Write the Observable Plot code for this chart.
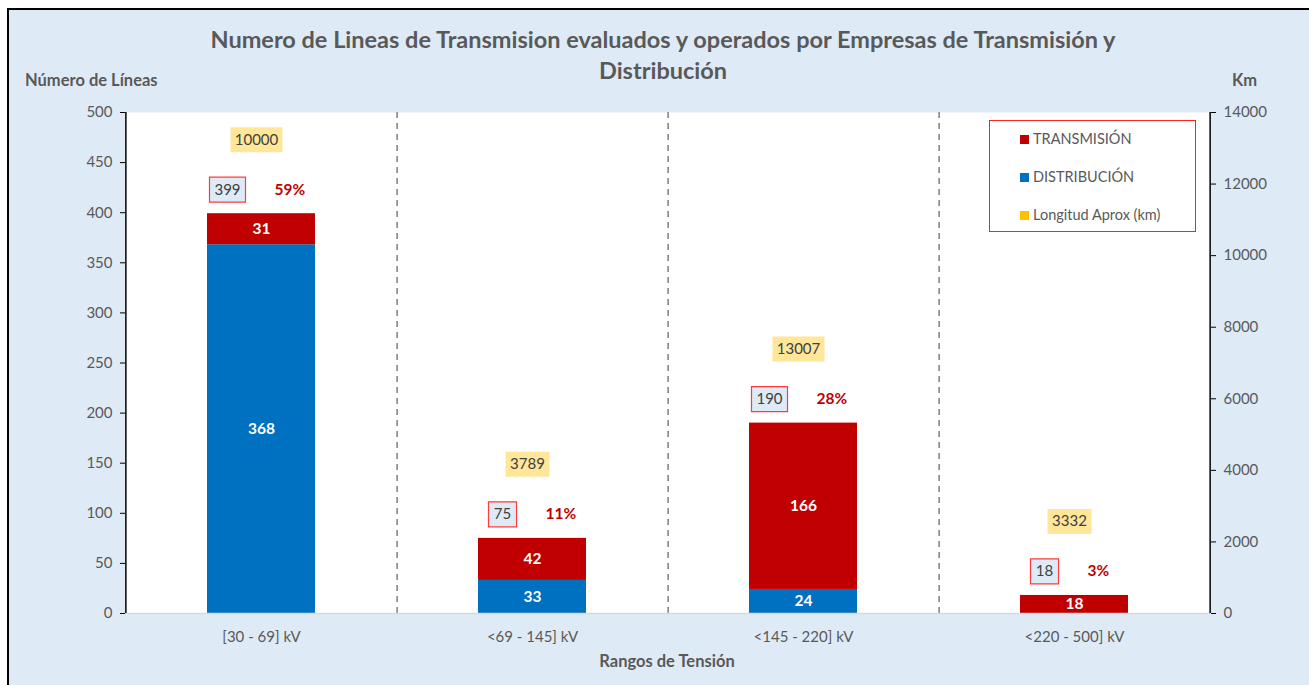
<!DOCTYPE html>
<html><head><meta charset="utf-8">
<script src="https://cdn.jsdelivr.net/npm/d3@7"></script>
<script src="https://cdn.jsdelivr.net/npm/@observablehq/plot@0.6"></script>
<style>
body{margin:0;background:#fff;}
#wrap{position:relative;width:1309px;height:685px;overflow:hidden;font-family:Lato,"Open Sans",sans-serif;color:#595959;}
#bg{position:absolute;left:7px;top:8px;width:1400px;height:800px;background:#DEEBF7;border-left:2px solid #000;border-top:2px solid #000;}
#chart{position:absolute;left:0;top:0;}
#title{position:absolute;left:113px;width:1100px;top:24px;text-align:center;font-weight:bold;font-size:23.5px;line-height:31px;color:#595959;}
.lab{position:absolute;font-weight:bold;font-size:16.5px;line-height:20px;color:#595959;white-space:nowrap;}
#legend{position:absolute;left:989px;top:120px;width:205px;height:110px;border:1.5px solid #FF2020;background:#fff;}
.li{position:absolute;left:30px;font-size:14.5px;line-height:18px;color:#595959;white-space:nowrap;}
.li span{display:inline-block;width:9px;height:9px;margin-right:4px;vertical-align:0px;}
</style></head>
<body>
<div id="wrap">
  <div id="bg"></div>
  <div id="chart"></div>
  <div id="title">Numero de Lineas de Transmision evaluados y operados por Empresas de Transmisión y<br>Distribución</div>
  <div class="lab" style="left:25px;top:70px;">Número de Líneas</div>
  <div class="lab" style="left:1232px;top:70px;">Km</div>
  <div class="lab" style="left:567px;width:200px;text-align:center;top:651px;">Rangos de Tensión</div>
  <div id="legend"></div>
</div>
<script>
const categories = ["[30 - 69] kV", "<69 - 145] kV", "<145 - 220] kV", "<220 - 500] kV"];
const transmision = [31, 42, 166, 18];
const distribucion = [368, 33, 24, 0];
const totals = [399, 75, 190, 18];
const percents = ["59%", "11%", "28%", "3%"];
const longitud = [10000, 3789, 13007, 3332];
const leftTicks = [0, 50, 100, 150, 200, 250, 300, 350, 400, 450, 500];
const rightTicks = [0, 2000, 4000, 6000, 8000, 10000, 12000, 14000];
const seriesNames = ["TRANSMISIÓN", "DISTRIBUCIÓN", "Longitud Aprox (km)"];
const seriesColors = ["#C00000", "#0070C0", "#FFC000"];

const W = 1309, H = 685, mL = 125, mR = 99, mT = 112, mB = 72;
const pIn = 0.6, pOut = 0.3;
const step = (W - mL - mR) / (categories.length - pIn + 2 * pOut);
const edge = step * pOut + step * (1 - pIn) / 2; // from first/last band centre to frame edge
const kmFactor = 14000 / 500;

const rows = categories.flatMap((c, i) => [
  {cat: c, serie: "DISTRIBUCIÓN", value: distribucion[i]},
  {cat: c, serie: "TRANSMISIÓN", value: transmision[i]}
]);
const tot = categories.map((c, i) => ({cat: c, total: totals[i], pct: percents[i], km: longitud[i]}));

const boxSymbol = (w, h) => ({draw(ctx) {
  ctx.moveTo(-w / 2, -h / 2); ctx.lineTo(w / 2, -h / 2); ctx.lineTo(w / 2, h / 2); ctx.lineTo(-w / 2, h / 2); ctx.closePath();
}});

const font = "Lato, 'Open Sans', sans-serif";
const marks = [
  Plot.frame({fill: "white", stroke: null}),
  Plot.ruleX(categories.slice(0, -1), {x: d => d, dx: step / 2, stroke: "#7F7F7F", strokeWidth: 1.5, strokeDasharray: "6,5"}),
  Plot.barY(rows, {x: "cat", y: "value", fill: "serie"}),
  Plot.ruleY([0], {stroke: "#D9D9D9", strokeWidth: 1.5}),
  Plot.ruleX([categories[0]], {x: d => d, y1: 0, y2: 500, dx: -edge, stroke: "black", strokeWidth: 1.5}),
  Plot.ruleX([categories[categories.length - 1]], {x: d => d, y1: 0, y2: 500, dx: edge, stroke: "black", strokeWidth: 1.5}),
  Plot.text(rows, Plot.stackY({x: "cat", y: "value", z: "serie", text: d => d.value > 0 ? String(d.value) : "", fill: "white", fontWeight: "bold", fontSize: 15.5})),
];
// total boxes
for (const n of [2, 3]) {
  const w = n === 3 ? 36 : 28;
  const sub = tot.filter(d => String(d.total).length === n);
  marks.push(Plot.dot(sub, {x: "cat", y: "total", dx: -16 - w / 2, dy: -24, symbol: boxSymbol(w, 25), fill: "#DEEBF7", stroke: "#FF3B3B", strokeWidth: 1.2}));
  marks.push(Plot.text(sub, {x: "cat", y: "total", dx: -16 - w / 2, dy: -24, text: d => String(d.total), fill: "#404040", fontSize: 15}));
}
// km boxes
for (const n of [4, 5]) {
  const w = n === 5 ? 52 : 44;
  const sub = tot.filter(d => String(d.km).length === n);
  marks.push(Plot.dot(sub, {x: "cat", y: "total", dx: -5, dy: -74, symbol: boxSymbol(w, 25), fill: "#FFE699", stroke: null}));
  marks.push(Plot.text(sub, {x: "cat", y: "total", dx: -5, dy: -74, text: d => String(d.km), fill: "#404040", fontSize: 15}));
}
marks.push(Plot.text(tot, {x: "cat", y: "total", dx: 13, dy: -24, text: "pct", textAnchor: "start", fill: "#C00000", fontWeight: "bold", fontSize: 15.5}));
marks.push(Plot.axisY(leftTicks, {anchor: "left", tickSize: 5, tickPadding: 8, fontSize: 15, color: "#595959", stroke: "black", label: null}));
marks.push(Plot.axisY(rightTicks.map(v => v / kmFactor), {anchor: "right", tickSize: 5, tickPadding: 8, fontSize: 15, color: "#595959", stroke: "black", label: null, tickFormat: d => String(Math.round(d * kmFactor))}));
marks.push(Plot.axisX({tickSize: 0, tickPadding: 18, fontSize: 15, color: "#595959", label: null}));

const chart = Plot.plot({
  width: W, height: H,
  marginLeft: mL, marginRight: mR, marginTop: mT, marginBottom: mB,
  style: {background: "transparent", fontFamily: font, color: "#595959"},
  x: {domain: categories, paddingInner: pIn, paddingOuter: pOut, axis: null},
  y: {domain: [0, 500], axis: null},
  color: {domain: seriesNames.slice(0, 2), range: seriesColors.slice(0, 2)},
  marks
});
document.getElementById("chart").appendChild(chart);

const lg = d3.select("#legend");
seriesNames.forEach((s, i) => {
  lg.append("div").attr("class", "li").style("top", (9 + i * 38) + "px")
    .html(`<span style="background:${seriesColors[i]}"></span>${s}`);
});
</script>
</body></html>
